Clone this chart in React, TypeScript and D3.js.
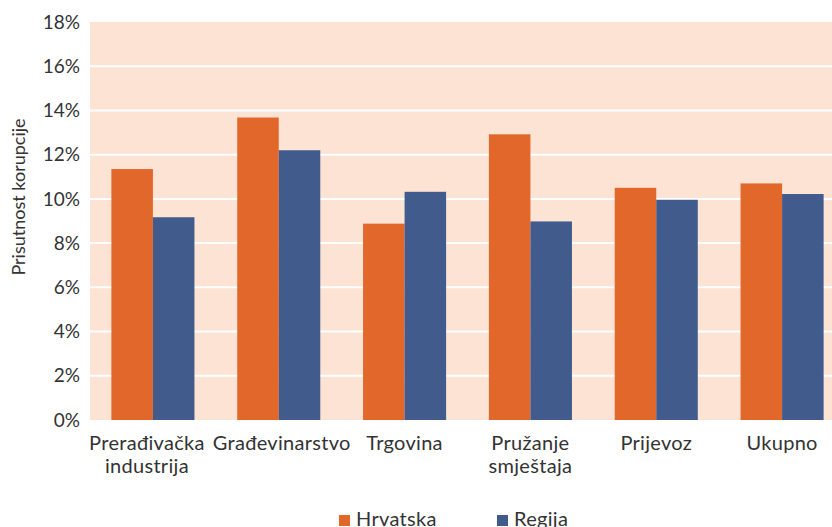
import React from "react";
import * as d3 from "d3";

const categories: string[][] = [
  ["Prerađivačka", "industrija"],
  ["Građevinarstvo"],
  ["Trgovina"],
  ["Pružanje", "smještaja"],
  ["Prijevoz"],
  ["Ukupno"],
];
const hrvatska = [11.35, 13.68, 8.88, 12.92, 10.5, 10.7];
const regija = [9.17, 12.2, 10.32, 8.98, 9.96, 10.22];
const yTicks = [0, 2, 4, 6, 8, 10, 12, 14, 16, 18];
const seriesNames = ["Hrvatska", "Regija"];
const colors = ["#E2672A", "#405B8C"];

// layout nudges so neighbouring category labels do not touch (as in the original)
const labelNudge = [-6, 3, 0, 0, 0, 0];

export default function App() {
  const W = 832;
  const H = 527;
  const left = 90;
  const top = 22;
  const bottom = 420;
  const right = 845;
  const font = "Lato, 'Open Sans', sans-serif";
  const textColor = "#333";

  const x0 = d3
    .scaleBand<number>()
    .domain(d3.range(categories.length))
    .range([left, right])
    .paddingInner(0.34)
    .paddingOuter(0.17);
  const x1 = d3.scaleBand<number>().domain([0, 1]).range([0, x0.bandwidth()]);
  const y = d3.scaleLinear().domain([0, 18]).range([bottom, top]);
  const series = [hrvatska, regija];

  return (
    <svg
      width={W}
      height={H}
      style={{ position: "absolute", left: 0, top: 0, background: "#fff" }}
      fontFamily={font}
    >
      <rect x={left} y={y(18)} width={W - left} height={y(0) - y(18)} fill="#FCE3D3" />
      {yTicks.map((t) =>
        t > 0 && t < 18 ? (
          <line key={"g" + t} x1={left} x2={W} y1={y(t)} y2={y(t)} stroke="#fff" strokeWidth={2} />
        ) : null
      )}
      {yTicks.map((t) => (
        <text
          key={"t" + t}
          x={80}
          y={y(t)}
          dy="0.35em"
          textAnchor="end"
          fontSize={19}
          fill={textColor}
        >
          {t + "%"}
        </text>
      ))}
      {series.map((vals, si) =>
        vals.map((v, i) => (
          <rect
            key={si + "-" + i}
            x={(x0(i) as number) + (x1(si) as number)}
            y={y(v)}
            width={x1.bandwidth()}
            height={y(0) - y(v)}
            fill={colors[si]}
          />
        ))
      )}
      {categories.map((lines, i) => {
        const cx = (x0(i) as number) + x0.bandwidth() / 2 + labelNudge[i];
        return (
          <text
            key={"c" + i}
            x={cx}
            y={450}
            textAnchor="middle"
            fontSize={20}
            letterSpacing={0.3}
            fill={textColor}
          >
            {lines.map((l, j) => (
              <tspan key={j} x={cx} dy={j === 0 ? 0 : 23}>
                {l}
              </tspan>
            ))}
          </text>
        );
      })}
      <text
        transform={`translate(25,197) rotate(-90)`}
        textAnchor="middle"
        fontSize={18}
        fill={textColor}
      >
        Prisutnost korupcije
      </text>
      {seriesNames.map((n, i) => {
        const lx = i === 0 ? 339 : 497;
        return (
          <g key={n}>
            <rect x={lx} y={515} width={11} height={11} fill={colors[i]} />
            <text x={lx + 17} y={526} fontSize={20} letterSpacing={0.3} fill={textColor}>
              {n}
            </text>
          </g>
        );
      })}
    </svg>
  );
}
